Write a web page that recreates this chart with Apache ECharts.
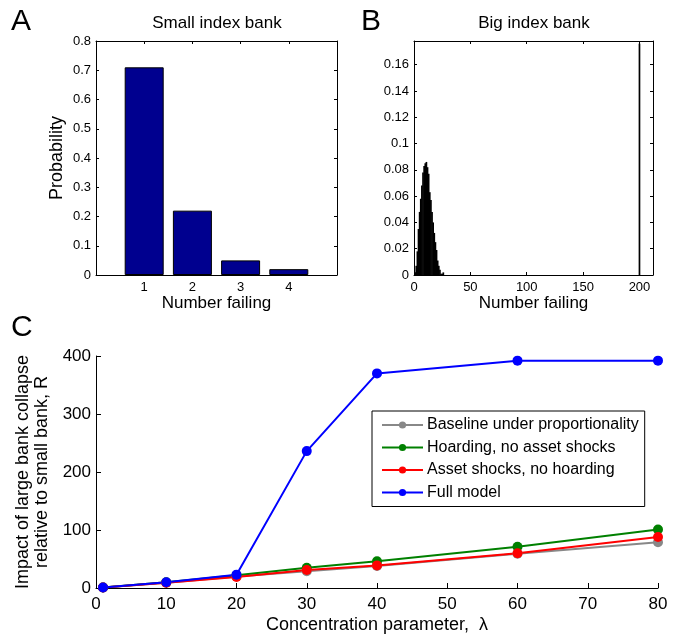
<!DOCTYPE html>
<html>
<head>
<meta charset="utf-8">
<script src="https://cdn.jsdelivr.net/npm/echarts@6/dist/echarts.min.js"></script>
<style>
html,body{margin:0;padding:0;background:#fff;}
#chart{width:675px;height:635px;}
</style>
</head>
<body>
<div id="chart"></div>
<script>
// Panel A: small index bank
const smallFailing = [1, 2, 3, 4];
const smallProb = [0.71, 0.22, 0.05, 0.02];

// Panel B: big index bank
const bigFailing = [1,2,3,4,5,6,7,8,9,10,11,12,13,14,15,16,17,18,19,20,21,22,23,24,25,26,200];
const bigProb = [0.002,0.007,0.018,0.035,0.048,0.058,0.068,0.078,0.083,0.085,0.086,0.082,0.077,0.063,0.057,0.048,0.040,0.032,0.025,0.019,0.011,0.007,0.004,0.001,0.001,0.002,0.176];

// Panel C
const lambdaVals = [1, 10, 20, 30, 40, 60, 80];
const baseline = [1, 9, 20, 29, 38, 59, 79];
const hoarding = [1, 10, 22, 35, 46, 71, 101];
const assetShocks = [1, 9, 19, 31, 39, 60, 88];
const fullModel = [1, 10, 23, 236, 370, 392, 392];
const seriesNames = ['Baseline under proportionality', 'Hoarding, no asset shocks', 'Asset shocks, no hoarding', 'Full model'];

const FONT = 'Liberation Sans, Arial, sans-serif';
const black = '#000';
const pair = (xs, ys) => xs.map((x, i) => [x, ys[i]]);

function boxAxis(extra) {
  return Object.assign({
    type: 'value',
    axisLine: { show: true, onZero: false, lineStyle: { color: black, width: 1 } },
    axisTick: { show: true, inside: true, length: 3, lineStyle: { color: black } },
    splitLine: { show: false },
    axisLabel: { color: black, fontFamily: FONT, fontSize: 13 }
  }, extra);
}

const chart = echarts.init(document.getElementById('chart'), null, { renderer: 'canvas' });
const option = {
  animation: false,
  backgroundColor: '#fff',
  textStyle: { fontFamily: FONT, color: black },
  title: [
    { text: 'A', left: 11, top: 7, padding: 0, textStyle: { fontSize: 30, fontWeight: 'normal', fontFamily: FONT, color: black } },
    { text: 'B', left: 361, top: 7, padding: 0, textStyle: { fontSize: 30, fontWeight: 'normal', fontFamily: FONT, color: black } },
    { text: 'C', left: 11, top: 313, padding: 0, textStyle: { fontSize: 30, fontWeight: 'normal', fontFamily: FONT, color: black } },
    { text: 'Small index bank', left: 217, top: 15, textAlign: 'center', padding: 0, textStyle: { fontSize: 17, fontWeight: 'normal', fontFamily: FONT, color: black } },
    { text: 'Big index bank', left: 534, top: 15, textAlign: 'center', padding: 0, textStyle: { fontSize: 17, fontWeight: 'normal', fontFamily: FONT, color: black } }
  ],
  grid: [
    { left: 96, top: 41, width: 241, height: 234 },
    { left: 414, top: 41, width: 239, height: 234 },
    { left: 96, top: 356, width: 562, height: 233 }
  ],
  legend: {
    data: seriesNames,
    orient: 'vertical',
    left: 372,
    top: 411,
    padding: [6, 6, 6, 9],
    itemGap: 6.5,
    itemWidth: 41,
    itemHeight: 9,
    borderColor: black,
    borderWidth: 1,
    backgroundColor: '#fff',
    textStyle: { fontFamily: FONT, fontSize: 16, color: black, padding: [0, 0, 0, -1] }
  },
  xAxis: [
    boxAxis({ gridIndex: 0, min: 0, max: 5, interval: 1, position: 'bottom',
      name: 'Number failing', nameLocation: 'middle', nameGap: 13,
      nameTextStyle: { fontFamily: FONT, fontSize: 17, color: black },
      axisLabel: { color: black, fontFamily: FONT, fontSize: 13, margin: 6,
        formatter: v => (v >= 1 && v <= 4) ? String(v) : '' } }),
    boxAxis({ gridIndex: 0, min: 0, max: 5, interval: 1, position: 'top', axisLabel: { show: false } }),
    boxAxis({ gridIndex: 1, min: 0, max: 212, interval: 50, position: 'bottom',
      name: 'Number failing', nameLocation: 'middle', nameGap: 13,
      nameTextStyle: { fontFamily: FONT, fontSize: 17, color: black },
      axisLabel: { color: black, fontFamily: FONT, fontSize: 13, margin: 6, showMaxLabel: false } }),
    boxAxis({ gridIndex: 1, min: 0, max: 212, interval: 50, position: 'top', axisLabel: { show: false } }),
    boxAxis({ gridIndex: 2, min: 0, max: 80, interval: 10, position: 'bottom',
      axisTick: { show: true, inside: true, length: 5, lineStyle: { color: black } },
      name: 'Concentration parameter,  \u03bb', nameLocation: 'middle', nameGap: 28,
      nameTextStyle: { fontFamily: FONT, fontSize: 18, color: black },
      axisLabel: { color: black, fontFamily: FONT, fontSize: 17, margin: 8 } })
  ],
  yAxis: [
    boxAxis({ gridIndex: 0, min: 0, max: 0.8, interval: 0.1, position: 'left',
      name: 'Probability', nameLocation: 'middle', nameGap: 30,
      nameTextStyle: { fontFamily: FONT, fontSize: 18, color: black },
      axisLabel: { color: black, fontFamily: FONT, fontSize: 13, margin: 5 } }),
    boxAxis({ gridIndex: 0, min: 0, max: 0.8, interval: 0.1, position: 'right', axisLabel: { show: false } }),
    boxAxis({ gridIndex: 1, min: 0, max: 0.178, interval: 0.02, position: 'left',
      axisLabel: { color: black, fontFamily: FONT, fontSize: 13, margin: 5, showMaxLabel: false } }),
    boxAxis({ gridIndex: 1, min: 0, max: 0.178, interval: 0.02, position: 'right', axisLabel: { show: false } }),
    boxAxis({ gridIndex: 2, min: 0, max: 400, interval: 100, position: 'left',
      axisTick: { show: true, inside: true, length: 5, lineStyle: { color: black } },
      name: 'Impact of large bank collapse\nrelative to small bank, R', nameLocation: 'middle', nameGap: 40,
      nameTextStyle: { fontFamily: FONT, fontSize: 18, lineHeight: 19, color: black },
      axisLabel: { color: black, fontFamily: FONT, fontSize: 17, margin: 5 } })
  ],
  series: [
    { type: 'bar', xAxisIndex: 0, yAxisIndex: 0, data: pair(smallFailing, smallProb), barWidth: 39,
      itemStyle: { color: '#00008f', borderColor: black, borderWidth: 1 } },
    { type: 'bar', xAxisIndex: 2, yAxisIndex: 2, data: pair(bigFailing, bigProb), barWidth: 1.7,
      itemStyle: { color: black } },
    { type: 'line', name: seriesNames[0], xAxisIndex: 4, yAxisIndex: 4, data: pair(lambdaVals, baseline),
      symbol: 'circle', symbolSize: 10, color: '#888888', lineStyle: { width: 2 } },
    { type: 'line', name: seriesNames[1], xAxisIndex: 4, yAxisIndex: 4, data: pair(lambdaVals, hoarding),
      symbol: 'circle', symbolSize: 10, color: '#008000', lineStyle: { width: 2 } },
    { type: 'line', name: seriesNames[2], xAxisIndex: 4, yAxisIndex: 4, data: pair(lambdaVals, assetShocks),
      symbol: 'circle', symbolSize: 10, color: '#ff0000', lineStyle: { width: 2 } },
    { type: 'line', name: seriesNames[3], xAxisIndex: 4, yAxisIndex: 4, data: pair(lambdaVals, fullModel),
      symbol: 'circle', symbolSize: 10, color: '#0000ff', lineStyle: { width: 2 } }
  ]
};
chart.setOption(option);
</script>
</body>
</html>
